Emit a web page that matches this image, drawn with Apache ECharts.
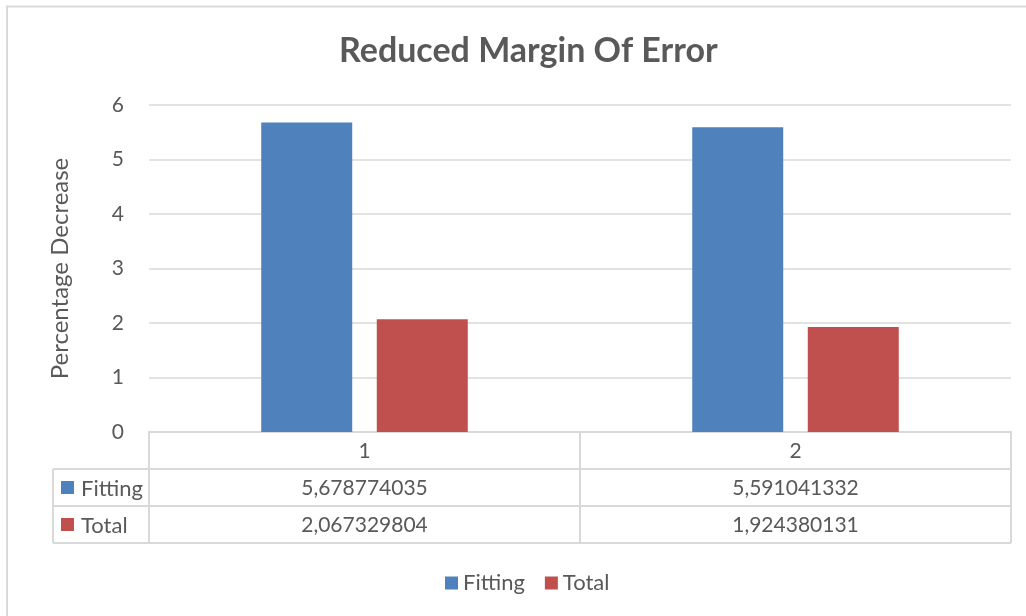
<!DOCTYPE html>
<html>
<head>
<meta charset="utf-8">
<script src="https://cdn.jsdelivr.net/npm/echarts@6/dist/echarts.min.js"></script>
<style>
  html, body { margin: 0; padding: 0; background: #fff; }
  #chart { width: 1026px; height: 616px; }
</style>
</head>
<body>
<div id="chart"></div>
<script>
// chart data
const categories = ['1', '2']
const seriesNames = ['Fitting', 'Total']
const fittingValues = [5.678774035, 5.591041332]
const totalValues = [2.067329804, 1.924380131]
const tableText = [
  ['5,678774035', '5,591041332'],
  ['2,067329804', '1,924380131']
]
const colors = ['#4F81BD', '#C0504D']

const FONT = 'Lato, "Open Sans", sans-serif'
const TEXT = '#595959'
const LINE = '#d9d9d9'

// plot area (px)
const gridLeft = 149
const gridRight = 1011
const gridTop = 105
const gridBottom = 432
const rowH = 37
const tableLeft = 53

const chart = echarts.init(document.getElementById('chart'))

// data table built from the arrays above
const buildTable = () => {
  const els = []
  const colW = (gridRight - gridLeft) / categories.length
  const tableBottom = gridBottom + rowH * 3
  // outer border of chart
  els.push({ type: 'polyline', shape: { points: [[7, 616], [7, 6.5], [1026, 6.5]] },
    style: { stroke: LINE, lineWidth: 2, fill: null } })
  // vertical lines
  for (let i = 0; i <= categories.length; i++) {
    const x = gridLeft + colW * i
    els.push({ type: 'line', shape: { x1: x, y1: gridBottom, x2: x, y2: tableBottom },
      style: { stroke: LINE, lineWidth: 2 } })
  }
  els.push({ type: 'line', shape: { x1: tableLeft, y1: gridBottom + rowH, x2: tableLeft, y2: tableBottom },
    style: { stroke: LINE, lineWidth: 2 } })
  // horizontal lines
  for (let r = 1; r <= 3; r++) {
    const y = gridBottom + rowH * r
    els.push({ type: 'line', shape: { x1: tableLeft, y1: y, x2: gridRight, y2: y },
      style: { stroke: LINE, lineWidth: 2 } })
  }
  // category header
  categories.forEach((c, i) => {
    els.push({ type: 'text', x: gridLeft + colW * (i + 0.5), y: gridBottom + rowH / 2 + 1,
      style: { text: c, font: '21px ' + FONT, fill: TEXT, align: 'center', verticalAlign: 'middle' } })
  })
  // series rows
  seriesNames.forEach((name, r) => {
    const yc = gridBottom + rowH * (r + 1.5)
    els.push({ type: 'rect', shape: { x: 61, y: yc - 6.5, width: 13, height: 13 },
      style: { fill: colors[r] } })
    els.push({ type: 'text', x: 81, y: yc + 1,
      style: { text: name, font: '22px ' + FONT, fill: TEXT, align: 'left', verticalAlign: 'middle' } })
    tableText[r].forEach((t, i) => {
      els.push({ type: 'text', x: gridLeft + colW * (i + 0.5), y: yc + 1,
        style: { text: t, font: '21px ' + FONT, fill: TEXT, align: 'center', verticalAlign: 'middle' } })
    })
  })
  return els
}

const option = {
  backgroundColor: '#fff',
  animation: false,
  title: {
    text: 'Reduced Margin Of Error',
    left: 334,
    top: 29,
    textStyle: { fontFamily: FONT, fontSize: 34, fontWeight: 'bold', color: TEXT }
  },
  legend: {
    data: seriesNames,
    left: 440,
    top: 567,
    icon: 'rect',
    itemWidth: 13,
    itemHeight: 13,
    itemGap: 20,
    textStyle: { fontFamily: FONT, fontSize: 22, color: TEXT }
  },
  grid: {
    left: gridLeft,
    right: 1026 - gridRight,
    top: gridTop,
    bottom: 616 - gridBottom,
    containLabel: false
  },
  xAxis: {
    type: 'category',
    data: categories,
    axisLine: { lineStyle: { color: LINE, width: 2 } },
    axisTick: { show: false },
    axisLabel: { show: false }
  },
  yAxis: {
    type: 'value',
    min: 0,
    max: 6,
    interval: 1,
    name: 'Percentage Decrease',
    nameLocation: 'middle',
    nameGap: 77,
    nameTextStyle: { fontFamily: FONT, fontSize: 24, color: TEXT },
    axisLine: { show: false },
    axisTick: { show: false },
    axisLabel: { fontFamily: FONT, fontSize: 21, color: TEXT, margin: 25 },
    splitLine: { lineStyle: { color: LINE, width: 1.5 } }
  },
  series: [
    {
      name: seriesNames[0],
      type: 'bar',
      data: fittingValues,
      barWidth: 91,
      barGap: '27%',
      itemStyle: { color: colors[0] }
    },
    {
      name: seriesNames[1],
      type: 'bar',
      data: totalValues,
      barWidth: 91,
      barGap: '27%',
      itemStyle: { color: colors[1] }
    }
  ],
  graphic: buildTable()
}

chart.setOption(option)
</script>
</body>
</html>
